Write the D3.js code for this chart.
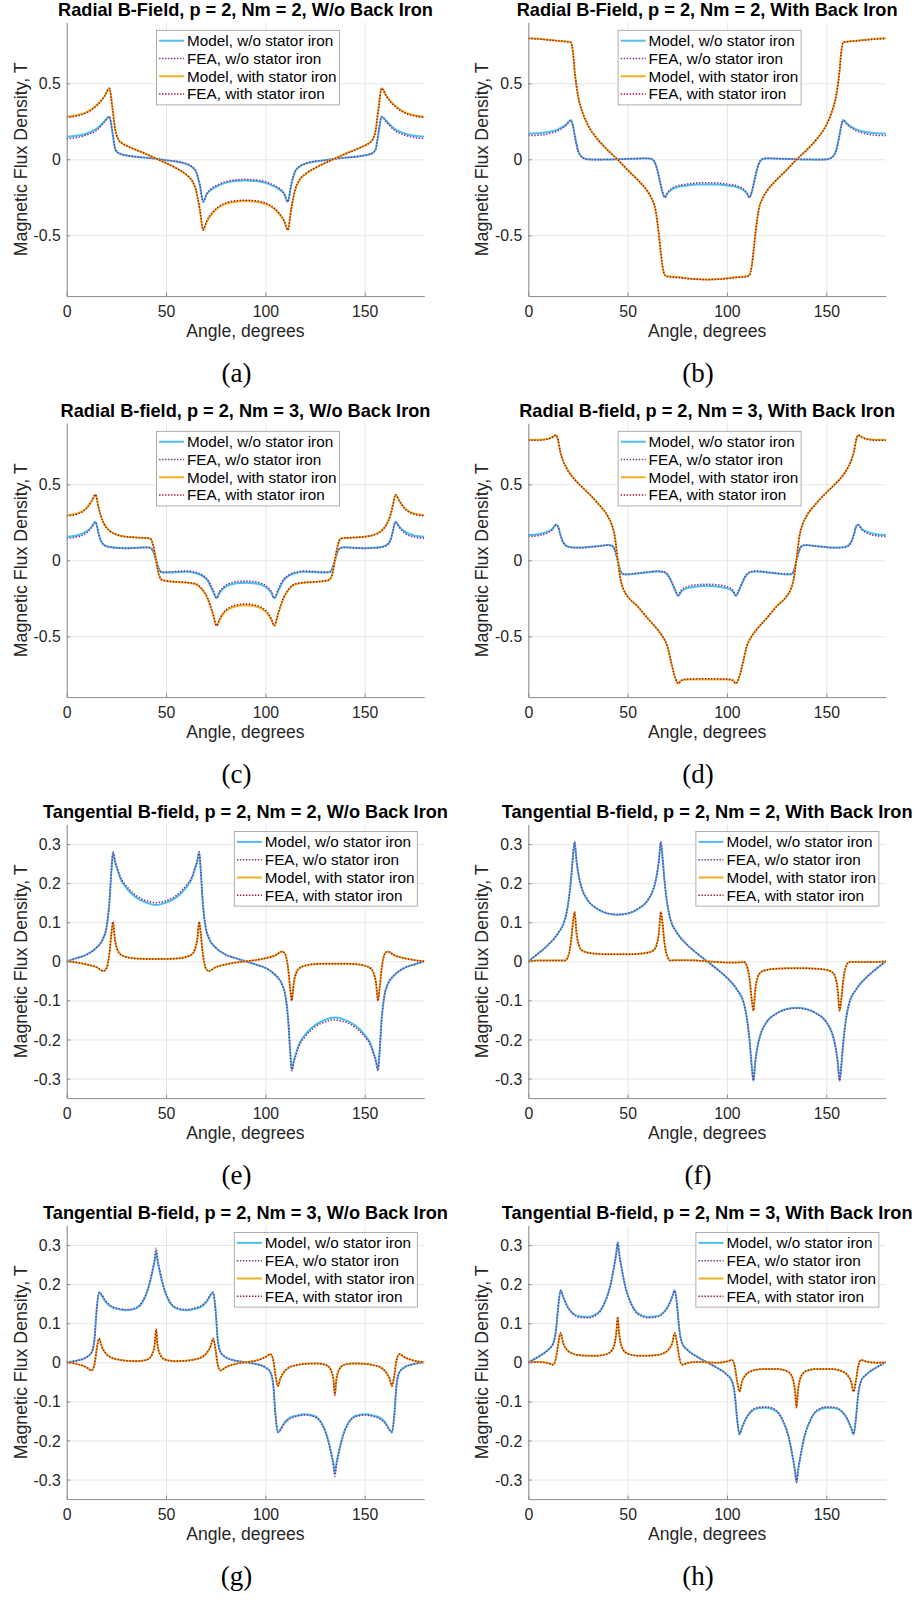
<!DOCTYPE html>
<html>
<head>
<meta charset="utf-8">
<script src="https://cdn.jsdelivr.net/npm/d3@7"></script>
<style>
  body { margin: 0; background: #fff; }
  svg text { font-family: "Liberation Sans", Arial, Helvetica, sans-serif; }
</style>
</head>
<body>
<div id="fig"></div>
<script>
// Magnetic flux density vs angle, 8 panels (a)-(h)

const angleTicks = [0, 50, 100, 150];
const radialTicks = [-0.5, 0, 0.5];
const tangTicks = [-0.3, -0.2, -0.1, 0, 0.1, 0.2, 0.3];
const legendLabels = ["Model, w/o stator iron", "FEA, w/o stator iron", "Model, with stator iron", "FEA, with stator iron"];
const titles = [
  "Radial B-Field, p = 2, Nm = 2, W/o Back Iron",
  "Radial B-Field, p = 2, Nm = 2, With Back Iron",
  "Radial B-field, p = 2, Nm = 3, W/o Back Iron",
  "Radial B-field, p = 2, Nm = 3, With Back Iron",
  "Tangential B-field, p = 2, Nm = 2, W/o Back Iron",
  "Tangential B-field, p = 2, Nm = 2, With Back Iron",
  "Tangential B-field, p = 2, Nm = 3, W/o Back Iron",
  "Tangential B-field, p = 2, Nm = 3, With Back Iron"
];
const captions = ["(a)", "(b)", "(c)", "(d)", "(e)", "(f)", "(g)", "(h)"];

// (a)
const aAngle = [0,5,10,15,19,21.5,23,24.5,26,28,31,35,40,45,50,55,60,63,65,67,68.7,70.5,73,76,80,85,90,95,100,104,107,109.5,111.3,113,115,117,120,125,130,135,140,145,149,152,154,155.5,157,158.5,161,165,170,175,180];
const aModelWo = [0.148,0.155,0.17,0.2,0.25,0.28,0.18,0.065,0.042,0.032,0.024,0.017,0.011,0.003,-0.006,-0.014,-0.03,-0.05,-0.08,-0.17,-0.28,-0.23,-0.198,-0.176,-0.155,-0.143,-0.139,-0.143,-0.155,-0.176,-0.198,-0.23,-0.28,-0.17,-0.08,-0.05,-0.03,-0.014,-0.006,0.003,0.011,0.017,0.024,0.032,0.042,0.065,0.18,0.28,0.25,0.2,0.17,0.155,0.148];
const aFeaWo = [0.136,0.143,0.16,0.19,0.245,0.28,0.18,0.064,0.041,0.031,0.023,0.016,0.01,0.003,-0.006,-0.013,-0.028,-0.048,-0.078,-0.165,-0.28,-0.226,-0.19,-0.168,-0.147,-0.136,-0.132,-0.136,-0.147,-0.168,-0.19,-0.226,-0.28,-0.165,-0.078,-0.048,-0.028,-0.013,-0.006,0.003,0.01,0.016,0.023,0.031,0.041,0.064,0.18,0.28,0.245,0.19,0.16,0.143,0.136];
const aModelWith = [0.28,0.29,0.31,0.355,0.415,0.467,0.34,0.19,0.13,0.105,0.085,0.062,0.035,0.005,-0.025,-0.058,-0.1,-0.14,-0.2,-0.33,-0.465,-0.41,-0.36,-0.322,-0.293,-0.279,-0.275,-0.279,-0.293,-0.322,-0.36,-0.41,-0.465,-0.33,-0.2,-0.14,-0.1,-0.058,-0.025,0.005,0.035,0.062,0.085,0.105,0.13,0.19,0.34,0.467,0.415,0.355,0.31,0.29,0.28];
const aFeaWith = [0.275,0.285,0.306,0.352,0.413,0.467,0.34,0.19,0.13,0.104,0.084,0.061,0.034,0.005,-0.025,-0.057,-0.098,-0.138,-0.198,-0.328,-0.465,-0.405,-0.355,-0.316,-0.287,-0.273,-0.269,-0.273,-0.287,-0.316,-0.355,-0.405,-0.465,-0.328,-0.198,-0.138,-0.098,-0.057,-0.025,0.005,0.034,0.061,0.084,0.104,0.13,0.19,0.34,0.467,0.413,0.352,0.306,0.285,0.275];

// (b)
const bAngle = [0,5,10,15,19,21.5,22.5,23.5,25,27,30,35,40,45,50,55,60,62,64,65.5,66.5,67.5,68.7,70,72,75,80,85,90,95,100,105,108,110,111.3,112.5,113.5,114.5,116,118,120,125,130,135,140,145,150,153,155,156.5,157.5,158.5,161,165,170,175,180];
const bModelWo = [0.17,0.172,0.18,0.197,0.228,0.258,0.22,0.15,0.06,0.015,0,-0.002,-0.001,0,0.002,0.004,0.006,0.002,-0.03,-0.1,-0.16,-0.215,-0.25,-0.225,-0.2,-0.183,-0.172,-0.166,-0.165,-0.166,-0.172,-0.183,-0.2,-0.225,-0.25,-0.215,-0.16,-0.1,-0.03,0.002,0.006,0.004,0.002,0,-0.001,-0.002,0,0.015,0.06,0.15,0.22,0.258,0.228,0.197,0.18,0.172,0.17];
const bFeaWo = [0.156,0.158,0.168,0.188,0.222,0.255,0.215,0.145,0.058,0.013,-0.002,-0.003,-0.001,0,0.002,0.005,0.007,0.003,-0.03,-0.1,-0.16,-0.212,-0.25,-0.22,-0.193,-0.175,-0.163,-0.156,-0.154,-0.156,-0.163,-0.175,-0.193,-0.22,-0.25,-0.212,-0.16,-0.1,-0.03,0.003,0.007,0.005,0.002,0,-0.001,-0.003,-0.002,0.013,0.058,0.145,0.215,0.255,0.222,0.188,0.168,0.158,0.156];
const bModelWith = [0.797,0.793,0.787,0.78,0.775,0.77,0.7,0.56,0.42,0.32,0.225,0.13,0.06,-0.002,-0.07,-0.135,-0.21,-0.255,-0.33,-0.47,-0.59,-0.7,-0.76,-0.77,-0.772,-0.775,-0.782,-0.788,-0.79,-0.788,-0.782,-0.775,-0.772,-0.77,-0.76,-0.7,-0.59,-0.47,-0.33,-0.255,-0.21,-0.135,-0.07,-0.002,0.06,0.13,0.225,0.32,0.42,0.56,0.7,0.77,0.775,0.78,0.787,0.793,0.797];
const bFeaWith = [0.795,0.791,0.785,0.779,0.774,0.769,0.7,0.56,0.42,0.32,0.225,0.13,0.06,-0.002,-0.07,-0.135,-0.21,-0.255,-0.33,-0.47,-0.59,-0.7,-0.762,-0.772,-0.775,-0.778,-0.785,-0.79,-0.792,-0.79,-0.785,-0.778,-0.775,-0.772,-0.762,-0.7,-0.59,-0.47,-0.33,-0.255,-0.21,-0.135,-0.07,-0.002,0.06,0.13,0.225,0.32,0.42,0.56,0.7,0.769,0.774,0.779,0.785,0.791,0.795];

// (c)
const cAngle = [0,5,10,12.5,14.5,16,17,19,22,26,30,35,40,42,43.5,45,46.5,48,52,56,60,65,68,71,73.5,75.5,77,79,82,86,90,94,98,101,103,104.5,106.5,109,112,115,120,124,128,132,133.5,135,136.5,138,140,145,150,154,158,161,163,164,165.5,167.5,170,175,180];
const cModelWo = [0.155,0.163,0.19,0.22,0.253,0.18,0.135,0.1,0.087,0.082,0.08,0.082,0.086,0.083,0.06,0,-0.06,-0.08,-0.08,-0.077,-0.075,-0.085,-0.1,-0.135,-0.2,-0.25,-0.213,-0.185,-0.162,-0.151,-0.148,-0.151,-0.162,-0.185,-0.213,-0.25,-0.2,-0.135,-0.1,-0.085,-0.075,-0.077,-0.08,-0.08,-0.06,0,0.06,0.083,0.086,0.082,0.08,0.082,0.087,0.1,0.135,0.18,0.253,0.22,0.19,0.163,0.155];
const cFeaWo = [0.145,0.153,0.18,0.215,0.25,0.18,0.133,0.098,0.085,0.08,0.078,0.08,0.085,0.082,0.06,0,-0.06,-0.078,-0.076,-0.073,-0.07,-0.079,-0.095,-0.128,-0.19,-0.248,-0.205,-0.175,-0.152,-0.14,-0.137,-0.14,-0.152,-0.175,-0.205,-0.248,-0.19,-0.128,-0.095,-0.079,-0.07,-0.073,-0.076,-0.078,-0.06,0,0.06,0.082,0.085,0.08,0.078,0.08,0.085,0.098,0.133,0.18,0.25,0.215,0.18,0.153,0.145];
const cModelWith = [0.297,0.307,0.345,0.39,0.432,0.35,0.3,0.235,0.19,0.165,0.155,0.15,0.147,0.143,0.1,0,-0.1,-0.13,-0.14,-0.144,-0.147,-0.158,-0.19,-0.255,-0.35,-0.43,-0.39,-0.35,-0.318,-0.3,-0.296,-0.3,-0.318,-0.35,-0.39,-0.43,-0.35,-0.255,-0.19,-0.158,-0.147,-0.144,-0.14,-0.13,-0.1,0,0.1,0.143,0.147,0.15,0.155,0.165,0.19,0.235,0.3,0.35,0.432,0.39,0.345,0.307,0.297];
const cFeaWith = [0.293,0.303,0.342,0.388,0.432,0.35,0.3,0.235,0.19,0.165,0.155,0.15,0.147,0.143,0.1,0,-0.1,-0.128,-0.138,-0.142,-0.145,-0.155,-0.186,-0.25,-0.345,-0.43,-0.385,-0.342,-0.31,-0.292,-0.287,-0.292,-0.31,-0.342,-0.385,-0.43,-0.345,-0.25,-0.186,-0.155,-0.145,-0.142,-0.138,-0.128,-0.1,0,0.1,0.143,0.147,0.15,0.155,0.165,0.19,0.235,0.3,0.35,0.432,0.388,0.342,0.303,0.293];

// (d)
const dAngle = [0,5,10,12,14,15,16,17.5,20,23,27,30,35,40,42,43.5,45,46.5,48,50,55,60,65,68,70,72,74,75.5,77,80,85,90,95,100,103,104.5,106,108,110,112,115,120,125,130,132,133.5,135,136.5,138,140,145,150,153,157,160,162.5,164,165,166,168,170,175,180];
const dModelWo = [0.167,0.172,0.19,0.205,0.235,0.222,0.175,0.12,0.09,0.085,0.085,0.087,0.093,0.1,0.097,0.07,0,-0.075,-0.093,-0.093,-0.087,-0.08,-0.073,-0.078,-0.095,-0.14,-0.2,-0.234,-0.205,-0.183,-0.172,-0.168,-0.172,-0.183,-0.205,-0.234,-0.2,-0.14,-0.095,-0.078,-0.073,-0.08,-0.087,-0.093,-0.093,-0.075,0,0.07,0.097,0.1,0.093,0.087,0.085,0.085,0.09,0.12,0.175,0.222,0.235,0.205,0.19,0.172,0.167];
const dFeaWo = [0.156,0.162,0.182,0.2,0.232,0.22,0.173,0.118,0.088,0.083,0.083,0.086,0.092,0.099,0.096,0.07,0,-0.074,-0.09,-0.09,-0.084,-0.077,-0.07,-0.074,-0.09,-0.135,-0.195,-0.23,-0.197,-0.173,-0.161,-0.157,-0.161,-0.173,-0.197,-0.23,-0.195,-0.135,-0.09,-0.074,-0.07,-0.077,-0.084,-0.09,-0.09,-0.074,0,0.07,0.096,0.099,0.092,0.086,0.083,0.083,0.088,0.118,0.173,0.22,0.232,0.2,0.182,0.162,0.156];
const dModelWith = [0.793,0.793,0.8,0.81,0.825,0.79,0.72,0.655,0.59,0.537,0.483,0.445,0.375,0.29,0.235,0.16,0.005,-0.13,-0.195,-0.238,-0.303,-0.38,-0.455,-0.51,-0.565,-0.675,-0.775,-0.812,-0.79,-0.785,-0.785,-0.785,-0.785,-0.785,-0.79,-0.812,-0.775,-0.675,-0.565,-0.51,-0.455,-0.38,-0.303,-0.238,-0.195,-0.13,0.005,0.16,0.235,0.29,0.375,0.445,0.483,0.537,0.59,0.655,0.72,0.79,0.825,0.81,0.8,0.793,0.793];
const dFeaWith = [0.79,0.79,0.798,0.808,0.823,0.79,0.72,0.655,0.59,0.537,0.483,0.445,0.375,0.29,0.235,0.16,0.005,-0.13,-0.195,-0.238,-0.303,-0.38,-0.455,-0.51,-0.565,-0.675,-0.775,-0.81,-0.79,-0.782,-0.78,-0.78,-0.78,-0.782,-0.79,-0.81,-0.775,-0.675,-0.565,-0.51,-0.455,-0.38,-0.303,-0.238,-0.195,-0.13,0.005,0.16,0.235,0.29,0.375,0.445,0.483,0.537,0.59,0.655,0.72,0.79,0.823,0.808,0.798,0.79,0.79];

// (e)
const eAngle = [0,5,10,15,18.5,20,21.5,22.5,23.3,24.3,25.5,27,30,35,40,45,50,55,60,63,64.5,65.7,66.7,67.5,68.5,70,71.5,75,80,85,90,95,100,105,108.5,110,111.5,112.5,113.3,114.3,115.5,117,120,125,130,135,140,145,150,153,154.5,155.7,156.7,157.5,158.5,160,161.5,165,170,175,180];
const eModelWo = [0,0.008,0.017,0.035,0.06,0.085,0.15,0.23,0.278,0.255,0.235,0.212,0.188,0.163,0.15,0.144,0.15,0.163,0.188,0.212,0.235,0.255,0.278,0.23,0.15,0.085,0.06,0.035,0.017,0.008,0,-0.008,-0.017,-0.035,-0.06,-0.085,-0.15,-0.23,-0.278,-0.255,-0.235,-0.212,-0.188,-0.163,-0.15,-0.144,-0.15,-0.163,-0.188,-0.212,-0.235,-0.255,-0.278,-0.23,-0.15,-0.085,-0.06,-0.035,-0.017,-0.008,0];
const eFeaWo = [0,0.008,0.017,0.035,0.06,0.086,0.152,0.232,0.28,0.258,0.238,0.216,0.193,0.168,0.155,0.15,0.155,0.168,0.193,0.216,0.238,0.258,0.28,0.232,0.152,0.086,0.06,0.035,0.017,0.008,0,-0.008,-0.017,-0.035,-0.06,-0.086,-0.152,-0.232,-0.28,-0.258,-0.238,-0.216,-0.193,-0.168,-0.155,-0.15,-0.155,-0.168,-0.193,-0.216,-0.238,-0.258,-0.28,-0.232,-0.152,-0.086,-0.06,-0.035,-0.017,-0.008,0];
const eModelWith = [0,-0.003,-0.008,-0.015,-0.025,-0.018,0.02,0.07,0.1,0.055,0.03,0.018,0.011,0.007,0.006,0.006,0.006,0.007,0.011,0.018,0.03,0.055,0.1,0.07,0.02,-0.018,-0.025,-0.015,-0.008,-0.003,0,0.003,0.008,0.015,0.025,0.018,-0.02,-0.07,-0.1,-0.055,-0.03,-0.018,-0.011,-0.007,-0.006,-0.006,-0.006,-0.007,-0.011,-0.018,-0.03,-0.055,-0.1,-0.07,-0.02,0.018,0.025,0.015,0.008,0.003,0];
const eFeaWith = [0,-0.003,-0.008,-0.015,-0.025,-0.018,0.02,0.07,0.101,0.055,0.03,0.018,0.011,0.007,0.006,0.006,0.006,0.007,0.011,0.018,0.03,0.055,0.101,0.07,0.02,-0.018,-0.025,-0.015,-0.008,-0.003,0,0.003,0.008,0.015,0.025,0.018,-0.02,-0.07,-0.101,-0.055,-0.03,-0.018,-0.011,-0.007,-0.006,-0.006,-0.006,-0.007,-0.011,-0.018,-0.03,-0.055,-0.101,-0.07,-0.02,0.018,0.025,0.015,0.008,0.003,0];

// (f)
const fAngle = [0,5,10,15,18.5,20,21.5,22.5,23.3,24.3,25.5,27,30,35,40,45,50,55,60,63,64.5,65.7,66.7,67.5,68.5,70,71.5,75,80,85,90,95,100,105,108.5,110,111.5,112.5,113.3,114.3,115.5,117,120,125,130,135,140,145,150,153,154.5,155.7,156.7,157.5,158.5,160,161.5,165,170,175,180];
const fModelWo = [0,0.02,0.042,0.072,0.108,0.145,0.21,0.27,0.306,0.255,0.215,0.185,0.155,0.133,0.122,0.119,0.122,0.133,0.155,0.185,0.215,0.255,0.306,0.27,0.21,0.145,0.108,0.072,0.042,0.02,0,-0.02,-0.042,-0.072,-0.108,-0.145,-0.21,-0.27,-0.306,-0.255,-0.215,-0.185,-0.155,-0.133,-0.122,-0.119,-0.122,-0.133,-0.155,-0.185,-0.215,-0.255,-0.306,-0.27,-0.21,-0.145,-0.108,-0.072,-0.042,-0.02,0];
const fFeaWo = [0,0.02,0.042,0.072,0.108,0.145,0.21,0.27,0.305,0.256,0.216,0.186,0.156,0.134,0.123,0.12,0.123,0.134,0.156,0.186,0.216,0.256,0.305,0.27,0.21,0.145,0.108,0.072,0.042,0.02,0,-0.02,-0.042,-0.072,-0.108,-0.145,-0.21,-0.27,-0.305,-0.256,-0.216,-0.186,-0.156,-0.134,-0.123,-0.12,-0.123,-0.134,-0.156,-0.186,-0.216,-0.256,-0.305,-0.27,-0.21,-0.145,-0.108,-0.072,-0.042,-0.02,0];
const fModelWith = [0,0.002,0.002,0.002,0.002,0.012,0.05,0.1,0.127,0.07,0.04,0.028,0.022,0.019,0.018,0.018,0.018,0.019,0.022,0.028,0.04,0.07,0.127,0.1,0.05,0.012,0.002,0.003,0.003,0.002,0,-0.002,-0.003,-0.003,-0.002,-0.012,-0.05,-0.1,-0.127,-0.07,-0.04,-0.028,-0.022,-0.019,-0.018,-0.018,-0.018,-0.019,-0.022,-0.028,-0.04,-0.07,-0.127,-0.1,-0.05,-0.012,-0.002,-0.002,-0.002,-0.002,0];
const fFeaWith = [0,0.002,0.002,0.002,0.002,0.012,0.05,0.1,0.126,0.07,0.04,0.028,0.022,0.019,0.018,0.018,0.018,0.019,0.022,0.028,0.04,0.07,0.126,0.1,0.05,0.012,0.002,0.003,0.003,0.002,0,-0.002,-0.003,-0.003,-0.002,-0.012,-0.05,-0.1,-0.126,-0.07,-0.04,-0.028,-0.022,-0.019,-0.018,-0.018,-0.018,-0.019,-0.022,-0.028,-0.04,-0.07,-0.126,-0.1,-0.05,-0.012,-0.002,-0.002,-0.002,-0.002,0];

// (g)
const gAngle = [0,5,10,12.5,14,15,16.3,17.5,19.5,22,26,30,35,38,41,43,44.3,45,45.7,47,49,52,55,60,64,68,70.5,72.5,73.7,75,76,77.5,80,85,90,95,100,102.5,104,105,106.3,107.5,109.5,112,116,120,125,128,131,133,134.3,135,135.7,137,139,142,145,150,154,158,160.5,162.5,163.7,165,166,167.5,170,175,180];
const gModelWo = [0,0.004,0.013,0.025,0.06,0.13,0.18,0.172,0.155,0.143,0.136,0.133,0.138,0.152,0.188,0.228,0.26,0.283,0.26,0.228,0.188,0.152,0.138,0.133,0.136,0.143,0.155,0.172,0.18,0.13,0.06,0.025,0.013,0.004,0,-0.004,-0.013,-0.025,-0.06,-0.13,-0.18,-0.172,-0.155,-0.143,-0.136,-0.133,-0.138,-0.152,-0.188,-0.228,-0.26,-0.283,-0.26,-0.228,-0.188,-0.152,-0.138,-0.133,-0.136,-0.143,-0.155,-0.172,-0.18,-0.13,-0.06,-0.025,-0.013,-0.004,0];
const gFeaWo = [0,0.004,0.013,0.025,0.058,0.128,0.178,0.174,0.158,0.146,0.138,0.135,0.14,0.155,0.19,0.232,0.266,0.292,0.266,0.232,0.19,0.155,0.14,0.135,0.138,0.146,0.158,0.174,0.178,0.128,0.058,0.025,0.013,0.004,0,-0.004,-0.013,-0.025,-0.058,-0.128,-0.178,-0.174,-0.158,-0.146,-0.138,-0.135,-0.14,-0.155,-0.19,-0.232,-0.266,-0.292,-0.266,-0.232,-0.19,-0.155,-0.14,-0.135,-0.138,-0.146,-0.158,-0.174,-0.178,-0.128,-0.058,-0.025,-0.013,-0.004,0];
const gModelWith = [0,-0.004,-0.013,-0.021,-0.005,0.03,0.061,0.042,0.024,0.013,0.007,0.004,0.003,0.004,0.008,0.02,0.045,0.083,0.045,0.02,0.008,0.004,0.003,0.004,0.007,0.013,0.024,0.042,0.061,0.03,-0.005,-0.021,-0.013,-0.004,0,0.004,0.013,0.021,0.005,-0.03,-0.061,-0.042,-0.024,-0.013,-0.007,-0.004,-0.003,-0.004,-0.008,-0.02,-0.045,-0.083,-0.045,-0.02,-0.008,-0.004,-0.003,-0.004,-0.007,-0.013,-0.024,-0.042,-0.061,-0.03,0.005,0.021,0.013,0.004,0];
const gFeaWith = [0,-0.004,-0.013,-0.021,-0.005,0.03,0.061,0.042,0.024,0.013,0.007,0.004,0.003,0.004,0.008,0.02,0.046,0.085,0.046,0.02,0.008,0.004,0.003,0.004,0.007,0.013,0.024,0.042,0.061,0.03,-0.005,-0.021,-0.013,-0.004,0,0.004,0.013,0.021,0.005,-0.03,-0.061,-0.042,-0.024,-0.013,-0.007,-0.004,-0.003,-0.004,-0.008,-0.02,-0.046,-0.085,-0.046,-0.02,-0.008,-0.004,-0.003,-0.004,-0.007,-0.013,-0.024,-0.042,-0.061,-0.03,0.005,0.021,0.013,0.004,0];

// (h)
const hAngle = [0,5,10,12.5,14,15,16.3,17.5,19.5,22,26,30,35,38,41,43,44.3,45,45.7,47,49,52,55,60,64,68,70.5,72.5,73.7,75,76,77.5,80,85,90,95,100,102.5,104,105,106.3,107.5,109.5,112,116,120,125,128,131,133,134.3,135,135.7,137,139,142,145,150,154,158,160.5,162.5,163.7,165,166,167.5,170,175,180];
const hModelWo = [0,0.014,0.032,0.048,0.085,0.14,0.185,0.168,0.145,0.127,0.117,0.116,0.126,0.148,0.19,0.24,0.28,0.308,0.28,0.24,0.19,0.148,0.126,0.116,0.117,0.127,0.145,0.168,0.185,0.14,0.085,0.048,0.032,0.014,0,-0.014,-0.032,-0.048,-0.085,-0.14,-0.185,-0.168,-0.145,-0.127,-0.117,-0.116,-0.126,-0.148,-0.19,-0.24,-0.28,-0.308,-0.28,-0.24,-0.19,-0.148,-0.126,-0.116,-0.117,-0.127,-0.145,-0.168,-0.185,-0.14,-0.085,-0.048,-0.032,-0.014,0];
const hFeaWo = [0,0.014,0.032,0.048,0.084,0.138,0.183,0.168,0.144,0.126,0.115,0.114,0.124,0.147,0.19,0.24,0.28,0.306,0.28,0.24,0.19,0.147,0.124,0.114,0.115,0.126,0.144,0.168,0.183,0.138,0.084,0.048,0.032,0.014,0,-0.014,-0.032,-0.048,-0.084,-0.138,-0.183,-0.168,-0.144,-0.126,-0.115,-0.114,-0.124,-0.147,-0.19,-0.24,-0.28,-0.306,-0.28,-0.24,-0.19,-0.147,-0.124,-0.114,-0.115,-0.126,-0.144,-0.168,-0.183,-0.138,-0.084,-0.048,-0.032,-0.014,0];
const hModelWith = [0,0.001,-0.002,-0.006,0.012,0.045,0.075,0.05,0.032,0.023,0.018,0.017,0.017,0.019,0.025,0.04,0.075,0.115,0.075,0.04,0.025,0.019,0.017,0.017,0.018,0.023,0.032,0.05,0.075,0.045,0.012,-0.006,-0.002,0.001,0,-0.001,0.002,0.006,-0.012,-0.045,-0.075,-0.05,-0.032,-0.023,-0.018,-0.017,-0.017,-0.019,-0.025,-0.04,-0.075,-0.115,-0.075,-0.04,-0.025,-0.019,-0.017,-0.017,-0.018,-0.023,-0.032,-0.05,-0.075,-0.045,-0.012,0.006,0.002,-0.001,0];
const hFeaWith = [0,0.001,-0.002,-0.006,0.012,0.045,0.075,0.05,0.032,0.023,0.018,0.017,0.017,0.019,0.025,0.04,0.076,0.116,0.076,0.04,0.025,0.019,0.017,0.017,0.018,0.023,0.032,0.05,0.075,0.045,0.012,-0.006,-0.002,0.001,0,-0.001,0.002,0.006,-0.012,-0.045,-0.075,-0.05,-0.032,-0.023,-0.018,-0.017,-0.017,-0.019,-0.025,-0.04,-0.076,-0.116,-0.076,-0.04,-0.025,-0.019,-0.017,-0.017,-0.018,-0.023,-0.032,-0.05,-0.075,-0.045,-0.012,0.006,0.002,-0.001,0];

// series styles (MATLAB default order colours)
const seriesStyle = [
  {color: "#4DBEEE", width: 2, dash: null},
  {color: "#7E2F8E", width: 1.5, dash: "1.4 1.6"},
  {color: "#EDB120", width: 2, dash: null},
  {color: "#A2142F", width: 1.5, dash: "1.4 1.6"}
];

const panels = [
  {ang: aAngle, ys: [aModelWo, aFeaWo, aModelWith, aFeaWith], radial: true, legend: "n"},
  {ang: bAngle, ys: [bModelWo, bFeaWo, bModelWith, bFeaWith], radial: true, legend: "n"},
  {ang: cAngle, ys: [cModelWo, cFeaWo, cModelWith, cFeaWith], radial: true, legend: "n"},
  {ang: dAngle, ys: [dModelWo, dFeaWo, dModelWith, dFeaWith], radial: true, legend: "n"},
  {ang: eAngle, ys: [eModelWo, eFeaWo, eModelWith, eFeaWith], radial: false, legend: "ne"},
  {ang: fAngle, ys: [fModelWo, fFeaWo, fModelWith, fFeaWith], radial: false, legend: "ne"},
  {ang: gAngle, ys: [gModelWo, gFeaWo, gModelWith, gFeaWith], radial: false, legend: "ne"},
  {ang: hAngle, ys: [hModelWo, hFeaWo, hModelWith, hFeaWith], radial: false, legend: "ne"}
];

const colLeft = [66.7, 528.3];
const plotW = 357.6, plotH = 273.6;
const rowTop = 22.5, rowStep = 401;

const svg = d3.select("#fig").append("svg")
    .attr("width", 915)
    .attr("height", 1600);

panels.forEach((p, i) => {
    const left = colLeft[i % 2];
    const top = rowTop + rowStep * Math.floor(i / 2);
    const g = svg.append("g").attr("transform", `translate(${left},${top})`);

    const x = d3.scaleLinear().domain([0, 180]).range([0, plotW]);
    const y = d3.scaleLinear()
        .domain(p.radial ? [-0.9, 0.9] : [-0.35, 0.35])
        .range([plotH, 0]);
    const yTicks = p.radial ? radialTicks : tangTicks;

    // grid
    g.append("g")
        .attr("transform", `translate(0,${plotH})`)
        .call(d3.axisBottom(x).tickValues(angleTicks).tickSize(-plotH).tickFormat(""))
        .call(s => s.select(".domain").remove())
        .selectAll("line").attr("stroke", "#e6e6e6");
    g.append("g")
        .call(d3.axisLeft(y).tickValues(yTicks).tickSize(-plotW).tickFormat(""))
        .call(s => s.select(".domain").remove())
        .selectAll("line").attr("stroke", "#e6e6e6");

    // curves
    const clipId = "clip" + i;
    g.append("clipPath").attr("id", clipId)
        .append("rect").attr("width", plotW).attr("height", plotH);

    p.ys.forEach((vals, k) => {
        const st = seriesStyle[k];
        const line = d3.line()
            .x((d, j) => x(p.ang[j]))
            .y(d => y(d))
            .curve(d3.curveMonotoneX);
        g.append("path")
            .datum(vals)
            .attr("clip-path", `url(#${clipId})`)
            .attr("fill", "none")
            .attr("stroke", st.color)
            .attr("stroke-width", st.width)
            .attr("stroke-dasharray", st.dash)
            .attr("d", line);
    });

    // axes
    const xAxis = g.append("g")
        .attr("transform", `translate(0,${plotH})`)
        .call(d3.axisBottom(x).tickValues(angleTicks).tickSizeInner(-3.5).tickSizeOuter(0).tickFormat(d => String(d)));
    const yAxis = g.append("g")
        .call(d3.axisLeft(y).tickValues(yTicks).tickSizeInner(-3.5).tickSizeOuter(0).tickFormat(d => String(d)));
    [xAxis, yAxis].forEach(a => {
        a.select(".domain").attr("stroke", "#8c8c8c");
        a.selectAll(".tick line").attr("stroke", "#8c8c8c");
        a.selectAll("text")
            .attr("fill", "#262626")
            .style("font-size", "15.8px")
            .style("font-family", "'Liberation Sans', Arial, sans-serif");
    });
    xAxis.selectAll("text").attr("y", 10).attr("dy", "0.71em");
    yAxis.selectAll("text").attr("x", -6).attr("dy", "0.35em");

    // title and labels
    g.append("text")
        .attr("x", plotW / 2).attr("y", -6.5)
        .attr("text-anchor", "middle")
        .style("font-size", "18.2px").style("font-weight", "bold")
        .attr("fill", "#000")
        .text(titles[i]);
    g.append("text")
        .attr("x", plotW / 2).attr("y", plotH + 41)
        .attr("text-anchor", "middle")
        .style("font-size", "17.6px")
        .attr("fill", "#262626")
        .text("Angle, degrees");
    g.append("text")
        .attr("transform", `translate(-40,${plotH / 2}) rotate(-90)`)
        .attr("text-anchor", "middle")
        .style("font-size", "17.8px")
        .attr("fill", "#262626")
        .text("Magnetic Flux Density, T");
    g.append("text")
        .attr("x", plotW / 2 - 9).attr("y", plotH + 86)
        .attr("text-anchor", "middle")
        .style("font-family", "'Liberation Serif', 'DejaVu Serif', serif")
        .style("font-size", "27px")
        .attr("fill", "#000")
        .text(captions[i]);

    // legend
    const boxW = 183, boxH = 74.6;
    const bx = p.legend === "n" ? plotW / 2 - boxW / 2 + 2.5 : plotW - 7 - boxW;
    const by = p.legend === "n" ? 7.8 : 7;
    const lg = g.append("g").attr("transform", `translate(${bx},${by})`);
    lg.append("rect")
        .attr("width", boxW).attr("height", boxH)
        .attr("fill", "#fff")
        .attr("stroke", "#9a9a9a")
        .attr("stroke-width", 0.8);
    legendLabels.forEach((lab, k) => {
        const st = seriesStyle[k];
        const by0 = 15.8 + k * 17.8;
        lg.append("line")
            .attr("x1", 2.6).attr("x2", 27.6)
            .attr("y1", by0 - 5.4).attr("y2", by0 - 5.4)
            .attr("stroke", st.color)
            .attr("stroke-width", st.width)
            .attr("stroke-dasharray", st.dash);
        lg.append("text")
            .attr("x", 30.5).attr("y", by0)
            .style("font-size", "15.3px")
            .attr("fill", "#000")
            .text(lab);
    });
});
</script>
</body>
</html>
